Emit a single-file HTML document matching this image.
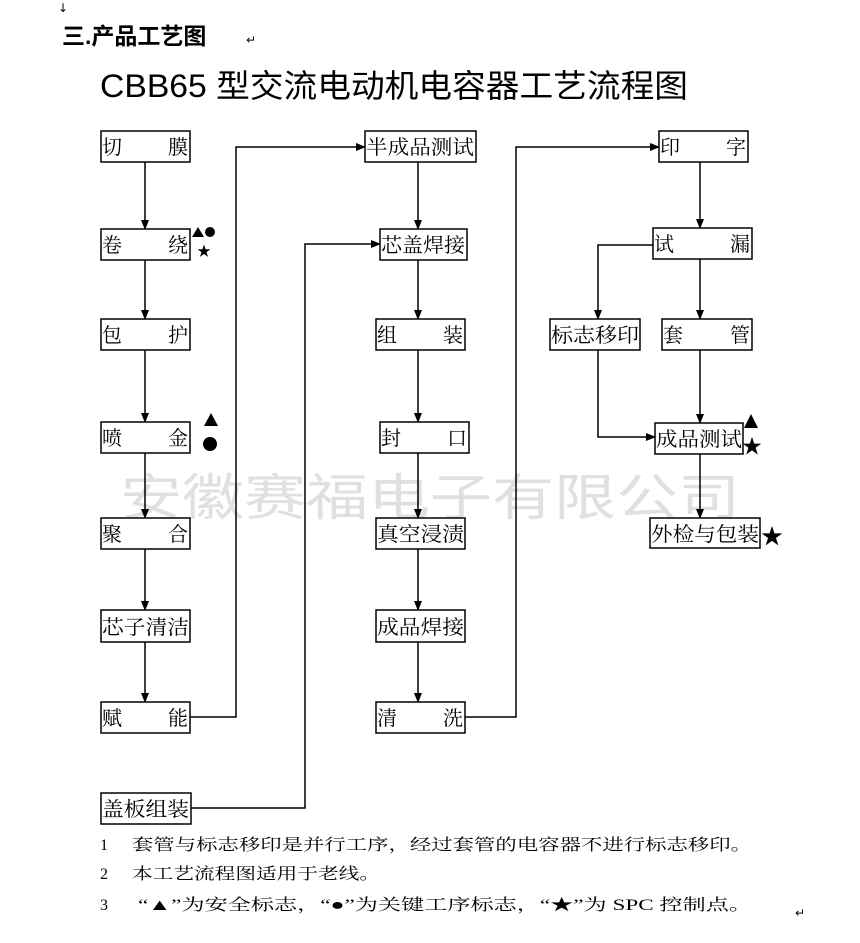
<!DOCTYPE html>
<html><head><meta charset="utf-8"><style>
html,body{margin:0;padding:0;background:#fff;}
svg{display:block;}
text{font-family:"Liberation Serif","Noto Serif CJK SC","Noto Sans CJK SC",serif;fill:#000;}
.b{font-family:"Liberation Sans","Noto Sans CJK SC",sans-serif;font-size:20px;}
</style></head><body>
<svg width="860" height="943" viewBox="0 0 860 943" xmlns="http://www.w3.org/2000/svg">
<defs><marker id="a" markerWidth="10" markerHeight="10" refX="9" refY="5" orient="auto" markerUnits="userSpaceOnUse"><path d="M0,1 L10,5 L0,9 Z" fill="#000"/></marker></defs>
<text x="58" y="12" font-size="12" style="font-family:'DejaVu Sans',sans-serif">↓</text>
<text x="62" y="44" font-size="23" font-weight="bold" style="font-family:'Liberation Sans','Noto Sans CJK SC',sans-serif">三.产品工艺图</text>
<text x="246" y="44" font-size="12" fill="#444" style="font-family:'DejaVu Sans',sans-serif">↵</text>
<text x="100" y="97" font-size="32" textLength="588" lengthAdjust="spacingAndGlyphs" style="font-family:'Liberation Sans','Noto Sans CJK SC',sans-serif">CBB65 型交流电动机电容器工艺流程图</text>
<text x="120" y="515" font-size="50" textLength="620" lengthAdjust="spacingAndGlyphs" style="font-family:'Liberation Sans','Noto Sans CJK SC',sans-serif;fill:#e0e0e0">安徽赛福电子有限公司</text>
<g stroke="#000" stroke-width="1.5" fill="none">
<line x1="145" y1="162" x2="145" y2="229" marker-end="url(#a)"/>
<line x1="145" y1="260" x2="145" y2="319" marker-end="url(#a)"/>
<line x1="145" y1="350" x2="145" y2="422" marker-end="url(#a)"/>
<line x1="145" y1="453" x2="145" y2="518" marker-end="url(#a)"/>
<line x1="145" y1="549" x2="145" y2="610" marker-end="url(#a)"/>
<line x1="145" y1="642" x2="145" y2="702" marker-end="url(#a)"/>
<line x1="418" y1="162" x2="418" y2="229" marker-end="url(#a)"/>
<line x1="418" y1="260" x2="418" y2="319" marker-end="url(#a)"/>
<line x1="418" y1="350" x2="418" y2="422" marker-end="url(#a)"/>
<line x1="418" y1="453" x2="418" y2="518" marker-end="url(#a)"/>
<line x1="418" y1="549" x2="418" y2="610" marker-end="url(#a)"/>
<line x1="418" y1="642" x2="418" y2="702" marker-end="url(#a)"/>
<polyline points="190,717 236,717 236,147 365,147" marker-end="url(#a)"/>
<polyline points="191,808 305,808 305,244 380,244" marker-end="url(#a)"/>
<polyline points="465,717 516,717 516,147 659,147" marker-end="url(#a)"/>
<line x1="700" y1="162" x2="700" y2="228" marker-end="url(#a)"/>
<line x1="700" y1="259" x2="700" y2="319" marker-end="url(#a)"/>
<polyline points="653,245 598,245 598,319" marker-end="url(#a)"/>
<line x1="700" y1="350" x2="700" y2="423" marker-end="url(#a)"/>
<polyline points="598,350 598,437 655,437" marker-end="url(#a)"/>
<line x1="700" y1="454" x2="700" y2="518" marker-end="url(#a)"/>
</g>
<g stroke="#000" stroke-width="1.5" fill="#fff">
<rect x="101" y="131" width="89" height="31"/>
<rect x="101" y="229" width="89" height="31"/>
<rect x="101" y="319" width="89" height="31"/>
<rect x="101" y="422" width="89" height="31"/>
<rect x="101" y="518" width="89" height="31"/>
<rect x="101" y="610" width="89" height="32"/>
<rect x="101" y="702" width="89" height="31"/>
<rect x="101" y="793" width="90" height="31"/>
<rect x="365" y="131" width="111" height="31"/>
<rect x="380" y="229" width="87" height="31"/>
<rect x="376" y="319" width="89" height="31"/>
<rect x="380" y="422" width="89" height="31"/>
<rect x="376" y="518" width="89" height="31"/>
<rect x="376" y="610" width="89" height="32"/>
<rect x="376" y="702" width="89" height="31"/>
<rect x="659" y="131" width="89" height="31"/>
<rect x="653" y="228" width="99" height="31"/>
<rect x="550" y="319" width="90" height="31"/>
<rect x="662" y="319" width="90" height="31"/>
<rect x="655" y="423" width="88" height="31"/>
<rect x="650" y="518" width="110" height="30"/>
</g>
<g class="b">
<text x="102" y="154">切</text><text x="168" y="154">膜</text>
<text x="102" y="252">卷</text><text x="168" y="252">绕</text>
<text x="102" y="342">包</text><text x="168" y="342">护</text>
<text x="102" y="445">喷</text><text x="168" y="445">金</text>
<text x="102" y="541">聚</text><text x="168" y="541">合</text>
<text x="102" y="634" textLength="87" lengthAdjust="spacingAndGlyphs">芯子清洁</text>
<text x="102" y="725">赋</text><text x="168" y="725">能</text>
<text x="102" y="816" textLength="87" lengthAdjust="spacingAndGlyphs">盖板组装</text>
<text x="366" y="154" textLength="108" lengthAdjust="spacingAndGlyphs">半成品测试</text>
<text x="381" y="252" textLength="84" lengthAdjust="spacingAndGlyphs">芯盖焊接</text>
<text x="377" y="342">组</text><text x="443" y="342">装</text>
<text x="381" y="445">封</text><text x="447" y="445">口</text>
<text x="377" y="541" textLength="87" lengthAdjust="spacingAndGlyphs">真空浸渍</text>
<text x="377" y="634" textLength="87" lengthAdjust="spacingAndGlyphs">成品焊接</text>
<text x="377" y="725">清</text><text x="443" y="725">洗</text>
<text x="660" y="154">印</text><text x="726" y="154">字</text>
<text x="654" y="251">试</text><text x="730" y="251">漏</text>
<text x="551" y="342" textLength="88" lengthAdjust="spacingAndGlyphs">标志移印</text>
<text x="663" y="342">套</text><text x="730" y="342">管</text>
<text x="656" y="446" textLength="86" lengthAdjust="spacingAndGlyphs">成品测试</text>
<text x="651" y="541" textLength="108" lengthAdjust="spacingAndGlyphs">外检与包装</text>
</g>
<g fill="#000">
<path d="M192,237 L198,227 L204,237 Z"/>
<circle cx="210" cy="232" r="5"/>
<path d="M204,426 L211,413 L218,426 Z"/>
<circle cx="210" cy="444" r="7"/>
<path d="M744,428 L751,414 L758,428 Z"/>
</g>
<g style="font-family:'DejaVu Sans',sans-serif">
<text x="197" y="256" font-size="14">★</text>
<text x="742" y="453" font-size="20">★</text>
<text x="761" y="544" font-size="22">★</text>
</g>
<g font-size="16">
<text x="100" y="850">1</text>
<text x="132" y="850" textLength="620" lengthAdjust="spacingAndGlyphs">套管与标志移印是并行工序，经过套管的电容器不进行标志移印。</text>
<text x="100" y="879">2</text>
<text x="132" y="879" textLength="248" lengthAdjust="spacingAndGlyphs">本工艺流程图适用于老线。</text>
<text x="100" y="910">3</text>
<text x="138" y="910" textLength="614" lengthAdjust="spacingAndGlyphs">“▲”为安全标志，“●”为关键工序标志，“★”为 SPC 控制点。</text>
<text x="795" y="917" font-size="12" fill="#444" style="font-family:'DejaVu Sans',sans-serif">↵</text>
</g>
</svg>
</body></html>
